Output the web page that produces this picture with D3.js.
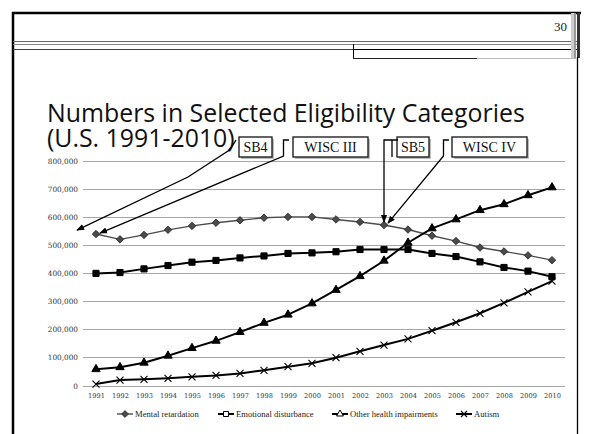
<!DOCTYPE html>
<html><head><meta charset="utf-8">
<script src="https://cdn.jsdelivr.net/npm/d3@7"></script>
<style>html,body{margin:0;padding:0;background:#fff;}svg{display:block;}</style>
</head><body>
<svg id="c" width="589" height="434"></svg>
<script>
// ---- data ----
const years = ["1991","1992","1993","1994","1995","1996","1997","1998","1999","2000","2001","2002","2003","2004","2005","2006","2007","2008","2009","2010"];
const mentalRetardation = [539000,520000,536000,554000,568000,579000,588000,597000,600000,600000,591000,582000,571000,555000,533000,514000,491000,477000,463000,446000];
const emotionalDisturbance = [399000,402000,415000,427000,439000,445000,454000,461000,470000,472000,476000,484000,484000,484000,470000,459000,440000,420000,407000,387000];
const otherHealth = [58000,65000,81000,106000,133000,159000,190000,223000,252000,292000,340000,389000,444000,508000,559000,591000,624000,645000,677000,705000];
const autism = [5000,19500,22000,25600,31000,36000,43000,54000,67000,79000,99000,121600,144000,166000,195000,225000,257000,294000,333500,371500];
const yTicks = [0,100000,200000,300000,400000,500000,600000,700000,800000];
const seriesNames = ["Mental retardation","Emotional disturbance","Other health impairments","Autism"];
const titleLines = ["Numbers in Selected Eligibility Categories","(U.S. 1991-2010)"];
const pageNumber = "30";
const callouts = ["SB4","WISC III","SB5","WISC IV"];

const svg = d3.select("#c");

// ---- slide frame ----
const frame = svg.append("g");
frame.append("line").attr("x1",12).attr("x2",581).attr("y1",13).attr("y2",13).attr("stroke","#000").attr("stroke-width",2.5);
frame.append("line").attr("x1",13).attr("x2",13).attr("y1",12).attr("y2",434).attr("stroke","#000").attr("stroke-width",2.5);
frame.append("line").attr("x1",13).attr("x2",580).attr("y1",41.5).attr("y2",41.5).attr("stroke","#666").attr("stroke-width",1.2);
frame.append("line").attr("x1",13).attr("x2",580).attr("y1",44.5).attr("y2",44.5).attr("stroke","#888").attr("stroke-width",1);
frame.append("line").attr("x1",13).attr("x2",353).attr("y1",49.5).attr("y2",49.5).attr("stroke","#444").attr("stroke-width",1);
frame.append("line").attr("x1",353).attr("x2",580).attr("y1",49.5).attr("y2",49.5).attr("stroke","#000").attr("stroke-width",1);
frame.append("line").attr("x1",353.5).attr("x2",353.5).attr("y1",44).attr("y2",59).attr("stroke","#000").attr("stroke-width",1);
frame.append("line").attr("x1",353).attr("x2",477).attr("y1",58.5).attr("y2",58.5).attr("stroke","#222").attr("stroke-width",1);
frame.append("line").attr("x1",477).attr("x2",576).attr("y1",58.5).attr("y2",58.5).attr("stroke","#bbb").attr("stroke-width",1);
frame.append("rect").attr("x",571).attr("y",13).attr("width",3).attr("height",45).attr("fill","#ccc");
frame.append("rect").attr("x",574).attr("y",13).attr("width",2).attr("height",45).attr("fill","#999");
frame.append("rect").attr("x",577).attr("y",13).attr("width",3).attr("height",45).attr("fill","#333");
frame.append("line").attr("x1",577.5).attr("x2",577.5).attr("y1",57).attr("y2",434).attr("stroke","#000").attr("stroke-width",1.3);
frame.append("text").attr("x",567).attr("y",31).attr("text-anchor","end")
  .attr("font-family","Liberation Serif").attr("font-size",13).attr("fill","#222").text(pageNumber);

// ---- title ----
const tg = svg.append("g").attr("font-family","'Open Sans', 'Noto Sans', sans-serif").attr("fill","#111");
const t1 = tg.append("text").attr("x",47).attr("y",122).attr("font-size",22).text(titleLines[0]);
const w = t1.node().getComputedTextLength();
const fs = 22*478/w;
t1.attr("font-size",fs);
tg.append("text").attr("x",47).attr("y",147).attr("font-size",fs).text(titleLines[1]);

// ---- scales ----
const x = d3.scalePoint().domain(years).range([96,552]);
const y = d3.scaleLinear().domain([0,800000]).range([385.5,160.7]);

// gridlines
const grid = svg.append("g");
grid.selectAll("line").data(yTicks).join("line")
  .attr("x1",83).attr("x2",565).attr("y1",d=>Math.round(y(d))+0.5).attr("y2",d=>Math.round(y(d))+0.5)
  .attr("stroke","#a6a6a6").attr("stroke-width",1);

// y axis
const yAxis = d3.axisLeft(y).tickValues(yTicks).tickSize(0).tickPadding(0)
  .tickFormat(d=>d3.format(",")(d));
const yg = svg.append("g").attr("transform","translate(78,0)").call(yAxis);
yg.select(".domain").remove();
yg.selectAll("text").attr("font-family","DejaVu Serif").attr("font-size",7.3).attr("fill","#333").attr("dy","0.35em");

// x axis
const xAxis = d3.axisBottom(x).tickSize(0).tickPadding(0);
const xg = svg.append("g").attr("transform","translate(0,393)").call(xAxis);
xg.select(".domain").remove();
xg.selectAll("text").attr("font-family","DejaVu Serif").attr("font-size",6.6).attr("fill","#333");

// ---- series ----
const line = d3.line().x((d,i)=>x(years[i])).y(d=>y(d));
const plot = svg.append("g");
function drawLine(vals,color,width){
  plot.append("path").datum(vals).attr("d",line).attr("fill","none").attr("stroke",color).attr("stroke-width",width).attr("stroke-linejoin","round");
}
drawLine(mentalRetardation,"#4d4d4d",1.4);
drawLine(emotionalDisturbance,"#000",2);
drawLine(otherHealth,"#000",2);
drawLine(autism,"#000",2);

const sym = (type,size)=>d3.symbol().type(type).size(size)();
function markers(vals,path,attrs){
  const s = plot.append("g").selectAll("path").data(vals).join("path")
    .attr("transform",(d,i)=>`translate(${x(years[i])},${y(d)})`).attr("d",path);
  for (const k in attrs) s.attr(k,attrs[k]);
}
markers(mentalRetardation,sym(d3.symbolDiamond2,36),{fill:"#4a4a4a",stroke:"#222","stroke-width":0.8});
markers(emotionalDisturbance,sym(d3.symbolSquare2,48),{fill:"#000",stroke:"#000","stroke-width":1});
markers(otherHealth,sym(d3.symbolTriangle2,50),{fill:"#000",stroke:"#000","stroke-width":1});
markers(autism,"M-3.5,-3.5L3.5,3.5M-3.5,3.5L3.5,-3.5",{fill:"none",stroke:"#000","stroke-width":1.1});

// ---- legend ----
const legendX = [117,218,332,456];
const lg = svg.append("g").attr("font-family","Liberation Serif").attr("font-size",8.6).attr("fill","#222");
const legY = 414;
seriesNames.forEach((n,i)=>{
  const x0 = legendX[i];
  const g = lg.append("g");
  g.append("line").attr("x1",x0).attr("x2",x0+16).attr("y1",legY).attr("y2",legY)
    .attr("stroke", i===0?"#4d4d4d":"#000").attr("stroke-width",i===0?1.4:2);
  const m = g.append("path").attr("transform",`translate(${x0+8},${legY})`);
  if(i===0) m.attr("d",sym(d3.symbolDiamond2,30)).attr("fill","#4a4a4a").attr("stroke","#222").attr("stroke-width",0.8);
  if(i===1) m.attr("d",sym(d3.symbolSquare2,32)).attr("fill","#fff").attr("stroke","#000").attr("stroke-width",1);
  if(i===2) m.attr("d",sym(d3.symbolTriangle2,34)).attr("fill","#fff").attr("stroke","#000").attr("stroke-width",1);
  if(i===3) m.attr("d","M-3,-3L3,3M-3,3L3,-3").attr("fill","none").attr("stroke","#000").attr("stroke-width",1.1);
  g.append("text").attr("x",x0+18).attr("y",legY).attr("dy","0.33em").text(n);
});

// ---- callouts ----
const cg = svg.append("g");
const defs = svg.append("defs");
defs.append("marker").attr("id","ah").attr("viewBox","0 0 10 10").attr("refX",9).attr("refY",5)
  .attr("markerWidth",6).attr("markerHeight",6).attr("orient","auto-start-reverse")
  .append("path").attr("d","M0,1L10,5L0,9Z").attr("fill","#000");

const boxes = [
  {label:callouts[0], x0:239, x1:272},
  {label:callouts[1], x0:293, x1:368},
  {label:callouts[2], x0:397, x1:429},
  {label:callouts[3], x0:452, x1:527}
];
boxes.forEach(b=>{
  cg.append("rect").attr("x",b.x0+2).attr("y",139).attr("width",b.x1-b.x0).attr("height",20).attr("fill","#bdbdbd");
  cg.append("rect").attr("x",b.x0).attr("y",137).attr("width",b.x1-b.x0).attr("height",20)
    .attr("fill","#fff").attr("stroke","#111").attr("stroke-width",1.3);
  cg.append("text").attr("x",(b.x0+b.x1)/2).attr("y",152).attr("text-anchor","middle")
    .attr("font-family","Liberation Serif").attr("font-size",14).attr("fill","#111").text(b.label);
});

const mr1991 = [x(years[0]), y(mentalRetardation[0])];
const mr2003 = [x(years[12]), y(mentalRetardation[12])];
const paths = [
  // SB4 -> before chart start (1986)
  `M236,140 Q233,146 228,151 L188,177 L${mr1991[0]-19},${mr1991[1]-4}`,
  // WISC III -> 1991
  `M289,140 L283.5,140 L283.5,156 L${mr1991[0]+4},${mr1991[1]-1}`,
  // SB5 -> 2003
  `M398,140 L392,140 L392,157 M392,140 L${mr2003[0]},140 L${mr2003[0]},${mr2003[1]-3}`,
  // WISC IV -> 2003
  `M449,140 L443.5,140 L443.5,156 L${mr2003[0]+4},${mr2003[1]-2}`
];
paths.forEach(p=>{
  cg.append("path").attr("d",p).attr("fill","none").attr("stroke","#000").attr("stroke-width",1.3)
    .attr("marker-end","url(#ah)");
});
</script>
</body></html>
